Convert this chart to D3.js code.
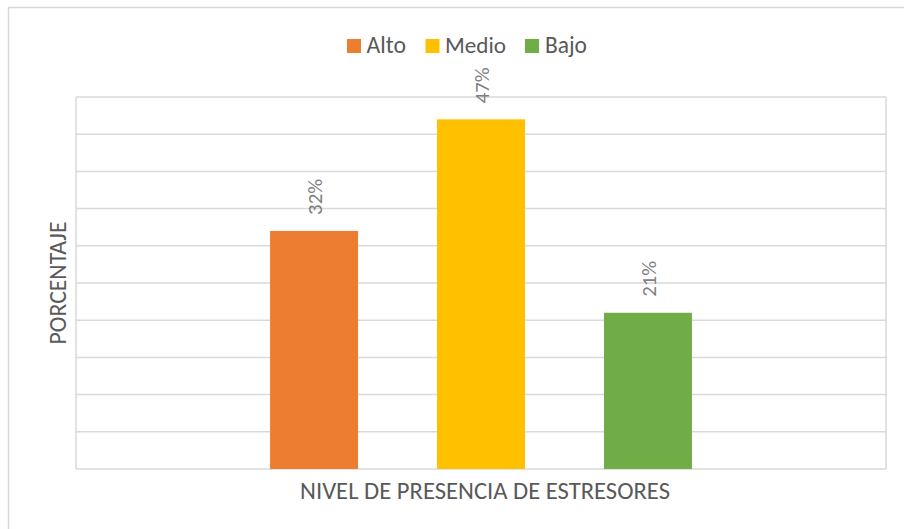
<!DOCTYPE html>
<html>
<head>
<meta charset="utf-8">
<script src="https://cdn.jsdelivr.net/npm/d3@7"></script>
<style>
  html, body { margin: 0; padding: 0; background: #fff; }
  svg { display: block; font-family: Calibri, Carlito, Lato, "Open Sans", sans-serif; }
</style>
</head>
<body>
<svg id="chart" width="904" height="529"></svg>
<script>
const categories = ["NIVEL DE PRESENCIA DE ESTRESORES"];
const seriesNames = ["Alto", "Medio", "Bajo"];
const seriesValues = [0.32, 0.47, 0.21];
const seriesColors = ["#ED7D31", "#FFC000", "#70AD47"];
const yTicks = [0, 0.05, 0.10, 0.15, 0.20, 0.25, 0.30, 0.35, 0.40, 0.45, 0.50];
const yTitle = "PORCENTAJE";
const xTitle = "NIVEL DE PRESENCIA DE ESTRESORES";

const svg = d3.select("#chart");
const W = 904, H = 529;
const plot = { left: 76, right: 886, top: 97, bottom: 469 };

// set font-size for glyph height, then fit width to target length
function fitText(sel, size, target) {
  sel.attr("font-size", size);
  const len = sel.node().getComputedTextLength();
  if (len > target) {
    sel.attr("textLength", target).attr("lengthAdjust", "spacingAndGlyphs");
  } else if (len > 0) {
    sel.attr("font-size", (size * target / len).toFixed(2));
  }
  return sel;
}

// outer chart border
svg.append("rect")
  .attr("x", 8.5).attr("y", 7.5)
  .attr("width", W + 10).attr("height", H + 10)
  .attr("fill", "#fff").attr("stroke", "#d9d9d9").attr("stroke-width", 1.5);

const y = d3.scaleLinear().domain([0, 0.5]).range([plot.bottom, plot.top]);
const x0 = d3.scaleBand().domain(categories).range([plot.left, plot.right])
  .paddingInner(0).paddingOuter(0.46);
const x1 = d3.scaleBand().domain(seriesNames).range([0, x0.bandwidth()])
  .paddingInner(0.473).paddingOuter(0);

// gridlines
svg.append("g").selectAll("line").data(yTicks).join("line")
  .attr("x1", plot.left).attr("x2", plot.right)
  .attr("y1", d => y(d)).attr("y2", d => y(d))
  .attr("stroke", "#d9d9d9").attr("stroke-width", 1.5);

// plot side borders
svg.append("g").selectAll("line").data([plot.left, plot.right]).join("line")
  .attr("x1", d => d).attr("x2", d => d)
  .attr("y1", plot.top).attr("y2", plot.bottom)
  .attr("stroke", "#d9d9d9").attr("stroke-width", 1.5);

const data = seriesNames.map((s, i) => ({ name: s, value: seriesValues[i], color: seriesColors[i] }));

// bars
svg.append("g").selectAll("rect").data(data).join("rect")
  .attr("x", d => x0(categories[0]) + x1(d.name))
  .attr("y", d => y(d.value))
  .attr("width", x1.bandwidth())
  .attr("height", d => y(0) - y(d.value))
  .attr("fill", d => d.color);

// data labels (rotated)
svg.append("g").selectAll("text").data(data).join("text")
  .attr("transform", d => {
    const cx = x0(categories[0]) + x1(d.name) + x1.bandwidth() / 2 + 1;
    return `translate(${cx},${y(d.value) - 16}) rotate(-90)`;
  })
  .attr("text-anchor", "start")
  .attr("dominant-baseline", "central")
  .attr("fill", "#7f7f7f")
  .text(d => Math.round(d.value * 100) + "%")
  .each(function () { fitText(d3.select(this), 20, 36); });

// legend
const legendItems = [
  { sx: 347, tx: 366.5, w: 39.5 },
  { sx: 425.5, tx: 445, w: 61 },
  { sx: 525, tx: 545, w: 42 }
];
const lg = svg.append("g");
data.forEach((d, i) => {
  const it = legendItems[i];
  lg.append("rect").attr("x", it.sx).attr("y", 39).attr("width", 14).attr("height", 14)
    .attr("fill", d.color);
  const t = lg.append("text").attr("x", it.tx).attr("y", 53)
    .attr("fill", "#595959").text(d.name);
  fitText(t, 19.5, it.w);
});

// y axis title
const yt = svg.append("text")
  .attr("transform", `translate(65.5,${(plot.top + plot.bottom) / 2}) rotate(-90)`)
  .attr("text-anchor", "middle")
  .attr("fill", "#595959")
  .text(yTitle);
fitText(yt, 19.5, 123);

// x axis title
const xt = svg.append("text")
  .attr("x", 485).attr("y", 499)
  .attr("text-anchor", "middle")
  .attr("fill", "#595959")
  .text(xTitle);
fitText(xt, 19.5, 370);
</script>
</body>
</html>
